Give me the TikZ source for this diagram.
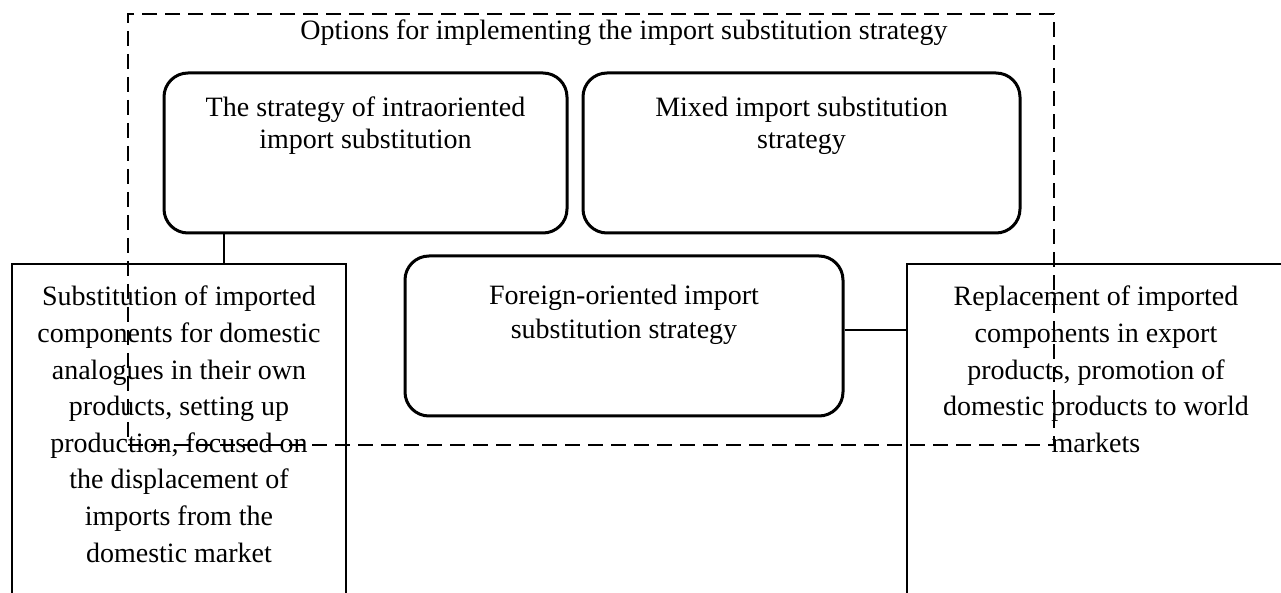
\documentclass[tikz,border=0pt]{standalone}
\usepackage{fontspec}
\setmainfont{Liberation Serif}
\newcommand\boxtxt[5]{\parbox[c][#2][t]{#1}{\centering\fontsize{14}{#4}\selectfont\rule{0pt}{#3}#5}}
\tikzset{
  roundbox/.style={draw, line width=1.5pt, rounded corners=12pt, inner sep=0pt},
  sidebox/.style={draw, line width=0.6pt, inner sep=0pt},
  frame/.style={draw, line width=0.9pt, dash pattern=on 7.5pt off 4pt, inner sep=0pt},
  link/.style={line width=0.6pt}
}
\begin{document}
\begin{tikzpicture}[x=0.5pt, y=-0.5pt]
\path[use as bounding box, clip] (0,0) rectangle (1281,593);
\fill[white] (0,0) rectangle (1281,593);
\node[sidebox] (left) at (179,452) {\boxtxt{167pt}{188pt}{21pt}{18.3pt}{Substitution of imported\\components for domestic\\analogues in their own\\products, setting up\\production, focused on\\the displacement of\\imports from the\\domestic market}};
\node[sidebox] (right) at (1096,452) {\boxtxt{189pt}{188pt}{21pt}{18.3pt}{Replacement of imported\\components in export\\products, promotion of\\domestic products to world\\markets}};
\node[roundbox] (intra) at (365.5,153) {\boxtxt{201.5pt}{80pt}{22pt}{15.8pt}{The strategy of intraoriented\\import substitution}};
\node[roundbox] (mixed) at (801.5,153) {\boxtxt{218.5pt}{80pt}{22pt}{15.8pt}{Mixed import substitution\\strategy}};
\node[roundbox] (foreign) at (624,336) {\boxtxt{219pt}{80pt}{24.5pt}{17pt}{Foreign-oriented import\\substitution strategy}};
\node[frame] (options) at (591,229.5) {\boxtxt{463pt}{215.5pt}{13pt}{16pt}{\hspace*{33pt}Options for implementing the import substitution strategy}};
\draw[link] ([xshift=-70.75pt]intra.south) -- ([xshift=-70.75pt]intra.south |- left.north);
\draw[link] ([yshift=3pt]foreign.east) -- ([yshift=3pt]foreign.east -| right.west);
\end{tikzpicture}
\end{document}
